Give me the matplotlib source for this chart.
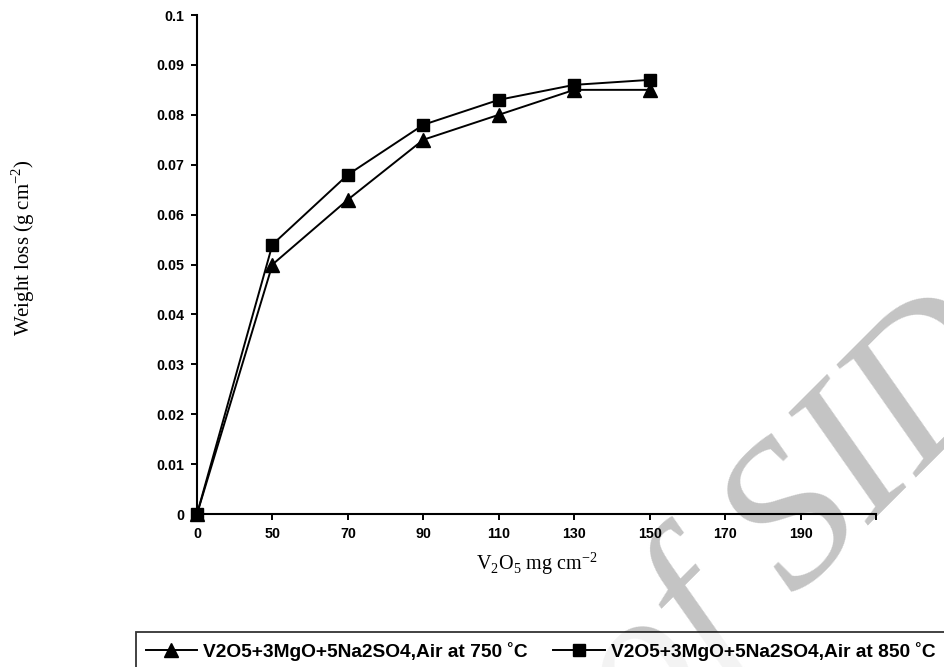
import matplotlib
matplotlib.use("Agg")
import matplotlib.pyplot as plt

plt.rcParams["mathtext.fontset"] = "custom"
plt.rcParams["mathtext.rm"] = "Liberation Serif"

# category axis (Excel-style line chart, equally spaced)
categories = ["0", "50", "70", "90", "110", "130", "150", "170", "190"]
loss_750 = [0, 0.050, 0.063, 0.075, 0.080, 0.085, 0.085]
loss_850 = [0, 0.054, 0.068, 0.078, 0.083, 0.086, 0.087]
labels = ["V2O5+3MgO+5Na2SO4,Air at 750 \u02daC",
          "V2O5+3MgO+5Na2SO4,Air at 850 \u02daC"]
yticks = [0, 0.01, 0.02, 0.03, 0.04, 0.05, 0.06, 0.07, 0.08, 0.09, 0.1]

fig = plt.figure(figsize=(9.44, 6.67), dpi=100)
ax = fig.add_axes([197 / 944, 1 - 514 / 667, (876 - 197) / 944, (514 - 15) / 667])
ax.set_facecolor("none")

# watermark behind everything
fig.text(0.845, 0.215, "of SID", fontsize=150, family="Liberation Serif", style="italic",
         color="#c4c4c4", rotation=45, ha="center", va="center", zorder=-5)

x = list(range(len(loss_750)))
l1, = ax.plot(x, loss_750, color="black", lw=1.4, marker="^", ms=9.5, clip_on=False)
l2, = ax.plot(x, loss_850, color="black", lw=1.4, marker="s", ms=9, clip_on=False)

ax.set_xlim(0, len(categories))
ax.set_ylim(0, 0.1)
ax.set_xticks(range(len(categories) + 1))
ax.set_xticklabels(categories + [""])
ax.set_yticks(yticks)
ax.set_yticklabels(["0"] + ["%g" % v for v in yticks[1:]])

for s in ["top", "right"]:
    ax.spines[s].set_visible(False)
for s in ["left", "bottom"]:
    ax.spines[s].set_linewidth(1.5)
ax.tick_params(direction="out", length=4, width=1.4, pad=5)
for t in ax.get_xticklabels() + ax.get_yticklabels():
    t.set_fontfamily("Liberation Sans")
    t.set_fontweight("bold")
    t.set_fontsize(10.3)

ax.set_xlabel(r"V$_2$O$_5$ mg cm$^{-2}$", family="Liberation Serif", fontsize=14.5, labelpad=7)
fig.text(23 / 944, 1 - 248 / 667, r"Weight loss (g cm$^{-2}$)", family="Liberation Serif",
         fontsize=15, rotation=90, ha="center", va="center")

leg = fig.legend([l1, l2], labels, loc="upper left", bbox_to_anchor=(136 / 944, 1 - 632 / 667),
                 ncol=2, frameon=True, fancybox=False, edgecolor="black", handlelength=2.7,
                 columnspacing=1.3, handletextpad=0.32, borderpad=0.5, borderaxespad=0,
                 prop={"family": "Liberation Sans", "weight": "bold", "size": 13.8})
leg.get_frame().set_linewidth(1.3)

fig.savefig("out.png", dpi=100)
